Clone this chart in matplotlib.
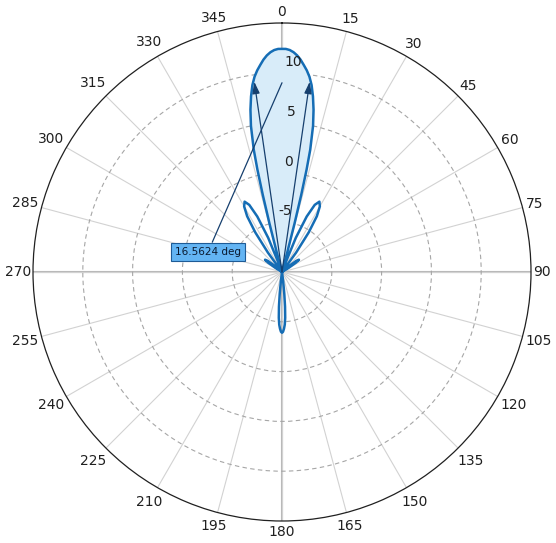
import numpy as np
import matplotlib
matplotlib.use('Agg')
import matplotlib.pyplot as plt

# pattern (deg clockwise from top, dB)
angles = [-62, -60, -58, -56, -54, -52, -50, -48, -38, -36, -34, -32, -30, -28,
          -26, -24, -22, -20, -19, -15.5, -15, -14.5, -14, -13.5, -13, -12, -11,
          -10, -9, -8, -7, -6, -5, -4, -3, -2, -1, 0, 1, 2, 3, 4, 5, 6, 7, 8, 9,
          10, 11, 12, 13, 13.5, 14, 14.5, 15, 15.5, 19, 20, 22, 24, 26, 28, 30,
          32, 34, 36, 38, 48, 50, 52, 54, 56, 58, 60, 62,
          172, 173, 174, 175, 176, 177, 178, 179, 180, 181, 182, 183, 184, 185,
          186, 187, 188, 298]
gain = [-10, -10, -9.2, -8.3, -7.9, -8.2, -9.0, -10, -10, -7.6, -5.2, -3.4, -2.4, -2.0,
        -2.5, -3.9, -6.3, -9.5, -10, -10, -8.0, -5.0, -2.0, 0.6, 2.6, 5.0, 6.6,
        7.9, 9.0, 9.8, 10.4, 10.9, 11.4, 11.8, 12.1, 12.3, 12.4, 12.4, 12.4, 12.3, 12.1, 11.8, 11.4, 10.9, 10.4, 9.8, 9.0,
        7.9, 6.6, 5.0, 2.6, 0.6, -2.0, -5.0, -8.0, -10, -10, -9.5, -6.3, -3.9, -2.5, -2.0, -2.4,
        -3.4, -5.2, -7.6, -10, -10, -9.0, -8.2, -7.9, -8.3, -9.2, -10, -10,
        -10, -9.0, -7.8, -6.5, -5.4, -4.7, -4.3, -4.0, -3.9, -4.0, -4.3, -4.7, -5.4, -6.5,
        -7.8, -9.0, -10, -10]

r_ticks = [-5, 0, 5, 10]
theta_ticks = list(range(0, 360, 15))
beamwidth = 16.5624
half_power = 9.3

th = np.deg2rad(angles)
g = np.array(gain)

fig = plt.figure(figsize=(5.56, 5.43), dpi=100)
ax = fig.add_axes([33 / 556, 22 / 543, 498 / 556, 498 / 543], projection='polar')
ax.set_theta_zero_location('N')
ax.set_theta_direction(-1)
ax.set_ylim(-10, 15)

ax.set_thetagrids(theta_ticks, [''] * len(theta_ticks))
ax.set_yticks(r_ticks)
ax.set_yticklabels([])
ax.xaxis.grid(True, color='#d2d2d2', linestyle='-', linewidth=0.8)
ax.yaxis.grid(True, color='#a6a6a6', linestyle=(0, (4, 3)), linewidth=0.8)
ax.spines['polar'].set_color('#202020')
ax.spines['polar'].set_linewidth(0.9)

# angle labels outside the rim (px -> dB: 249 px for 25 dB)
px = 25 / 249.0
for t in theta_ticks:
    s = str(t)
    w = 8.8 * len(s)
    a = np.deg2rad(t)
    off = 2 + 4 * abs(np.cos(a)) + 0.5 * w * abs(np.sin(a)) + 5 * abs(np.cos(a))
    ax.text(a, 15 + off * px, s, fontsize=10, color='#202020',
            ha='center', va='center', clip_on=False)

for a in [0, 90, 180, 270]:
    ax.plot([np.deg2rad(a), np.deg2rad(a)], [-10, 15], color='#b8b8b8', lw=1.5, zorder=1)

for v in r_ticks:
    ax.text(np.deg2rad(3.2), v + 1.1, str(v), fontsize=10, color='#202020',
            ha='center', va='center', zorder=5)

# main lobe shading
main = np.abs(np.array(angles)) <= 15.5
ax.fill(np.concatenate([th[main], [0]]), np.concatenate([g[main], [-10]]),
        color='#d8ecf9', zorder=2, lw=0)

ax.plot(th, g, color='#156db5', lw=1.8, zorder=4, clip_on=False)

# beamwidth arrows
for s in [-1, 1]:
    ax.annotate('', xy=(np.deg2rad(s * beamwidth / 2), half_power), xytext=(0, -10),
                arrowprops=dict(arrowstyle='-|>,head_length=0.7,head_width=0.22',
                                color='#163f6e', lw=0.9, shrinkA=0, shrinkB=0),
                zorder=6)

ax.annotate('%.4f deg' % beamwidth, xy=(0, 9.0), xytext=(208, 543 - 252),
            textcoords='figure pixels', fontsize=7.5, color='#0a1a30',
            ha='center', va='center',
            bbox=dict(boxstyle='square,pad=0.42', fc='#63b4f3', ec='#1e5b96', lw=0.8),
            arrowprops=dict(arrowstyle='-', color='#163f6e', lw=0.9, shrinkA=0, shrinkB=0),
            zorder=7)

fig.savefig('out.png', dpi=100)
